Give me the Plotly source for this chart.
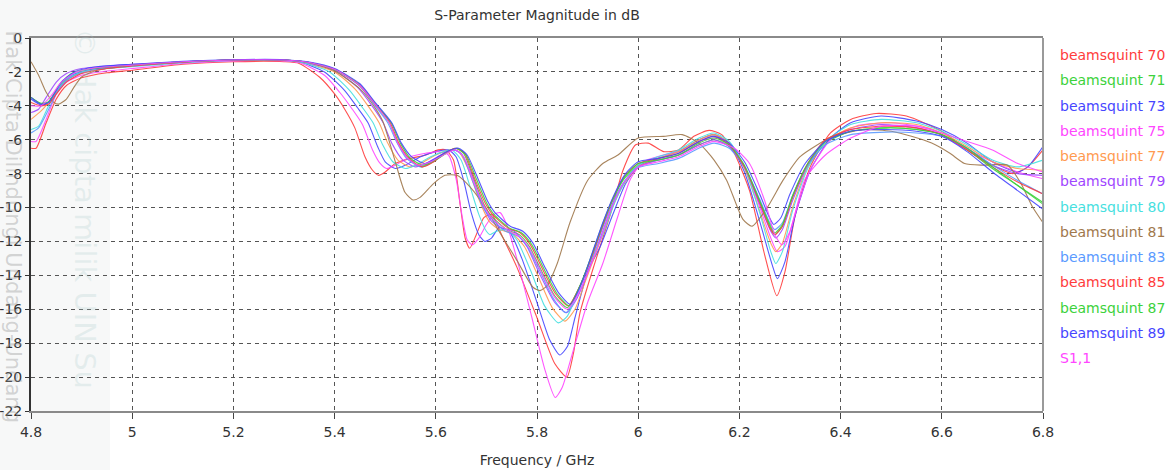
import plotly.graph_objects as go

# ---------------- data (frequency GHz, magnitude dB) ----------------
names = ["beamsquint 70", "beamsquint 71", "beamsquint 73", "beamsquint 75",
         "beamsquint 77", "beamsquint 79", "beamsquint 80", "beamsquint 81",
         "beamsquint 83", "beamsquint 85", "beamsquint 87", "beamsquint 89", "S1,1"]
colors = ["#ff3c3c", "#3cd23c", "#4646ff", "#ff46ff", "#ff9a50", "#a046ff",
          "#46e0e0", "#a0784c", "#5a9aff", "#ff3c3c", "#3cd23c", "#4646ff", "#ff46ff"]

bs70 = [(4.8,-6.5),(4.81,-6.5),(4.83,-5.0),(4.85,-3.6),(4.87,-2.8),(4.9,-2.35),(4.95,-2.05),(5.0,-1.9),
        (5.1,-1.55),(5.2,-1.4),(5.3,-1.4),(5.33,-1.5),(5.37,-2.3),(5.4,-3.3),(5.42,-4.2),(5.44,-5.3),
        (5.46,-7.0),(5.475,-7.8),(5.487,-8.1),(5.5,-7.9),(5.52,-7.4),(5.55,-7.1),(5.58,-6.9),(5.605,-6.6),
        (5.62,-6.6),(5.635,-7.2),(5.648,-9.8),(5.658,-11.8),(5.667,-12.4),(5.68,-11.6),(5.695,-10.6),
        (5.71,-10.4),(5.73,-11.6),(5.76,-13.5),(5.8,-16.5),(5.835,-19.2),(5.859,-20.0),(5.872,-18.6),
        (5.885,-16.2),(5.915,-13.2),(5.944,-10.5),(5.97,-7.8),(5.995,-6.3),(6.02,-6.2),(6.05,-6.7),
        (6.08,-6.6),(6.11,-5.8),(6.14,-5.45),(6.165,-5.7),(6.19,-6.8),(6.22,-9.0),(6.25,-12.8),
        (6.274,-15.2),(6.29,-13.8),(6.31,-10.5),(6.34,-7.6),(6.38,-5.6),(6.42,-4.8),(6.47,-4.45),
        (6.53,-4.6),(6.6,-5.5),(6.65,-6.6),(6.7,-7.5),(6.74,-8.0),(6.77,-7.6),(6.8,-6.6)]

bs71 = [(4.8,-3.5),(4.82,-3.9),(4.83,-3.9),(4.85,-3.2),(4.87,-2.5),(4.9,-2.0),(4.95,-1.75),(5.0,-1.6),
        (5.1,-1.4),(5.2,-1.3),(5.3,-1.3),(5.35,-1.45),(5.40,-1.85),(5.45,-2.8),(5.48,-3.9),(5.508,-5.0),
        (5.525,-6.2),(5.545,-7.1),(5.572,-7.6),(5.595,-7.3),(5.615,-6.9),(5.638,-6.5),(5.655,-6.8),
        (5.675,-8.3),(5.695,-9.8),(5.71,-10.5),(5.74,-11.3),(5.765,-11.6),(5.785,-12.3),(5.81,-13.8),
        (5.835,-15.2),(5.86,-15.9),(5.885,-14.6),(5.905,-13.1),(5.925,-11.5),(5.945,-9.9),(5.97,-8.4),
        (6.0,-7.5),(6.04,-7.2),(6.08,-6.9),(6.12,-6.3),(6.15,-6.0),(6.18,-6.4),(6.21,-7.6),(6.24,-9.6),
        (6.26,-11.1),(6.27,-11.6),(6.285,-11.1),(6.305,-9.4),(6.335,-7.5),(6.37,-6.2),(6.42,-5.5),
        (6.49,-5.3),(6.55,-5.4),(6.6,-5.7),(6.65,-6.6),(6.7,-7.7),(6.75,-8.7),(6.8,-9.7)]

bs73 = [(4.8,-3.6),(4.82,-3.95),(4.835,-3.8),(4.855,-2.9),(4.88,-2.2),(4.92,-1.85),(5.0,-1.6),
        (5.1,-1.42),(5.2,-1.3),(5.3,-1.32),(5.33,-1.4),(5.38,-2.0),(5.42,-3.1),(5.445,-4.1),(5.466,-5.0),
        (5.485,-6.4),(5.50,-7.3),(5.52,-7.7),(5.54,-7.5),(5.57,-7.0),(5.60,-6.7),(5.625,-6.6),(5.64,-7.0),
        (5.655,-8.4),(5.67,-10.3),(5.685,-11.6),(5.697,-12.0),(5.71,-11.8),(5.725,-11.2),(5.745,-11.4),
        (5.77,-13.0),(5.80,-15.6),(5.825,-17.8),(5.845,-18.7),(5.86,-18.2),(5.875,-16.5),(5.90,-13.8),
        (5.925,-12.3),(5.95,-10.4),(5.975,-8.6),(6.0,-7.6),(6.04,-7.1),(6.08,-6.7),(6.12,-6.0),(6.15,-5.7),
        (6.18,-6.2),(6.21,-7.9),(6.24,-10.8),(6.265,-13.4),(6.275,-14.2),(6.29,-13.2),(6.31,-10.5),
        (6.34,-7.8),(6.38,-5.9),(6.42,-5.0),(6.48,-4.6),(6.55,-4.9),(6.6,-5.4),(6.65,-6.2),(6.7,-7.3),
        (6.75,-7.9),(6.77,-7.6),(6.8,-6.4)]

bs75 = [(4.8,-6.1),(4.81,-6.1),(4.83,-4.8),(4.85,-3.3),(4.87,-2.6),(4.9,-2.2),(4.95,-1.95),(5.0,-1.8),
        (5.1,-1.5),(5.2,-1.35),(5.3,-1.35),(5.33,-1.45),(5.38,-2.2),(5.41,-3.2),(5.435,-4.2),(5.455,-5.1),
        (5.475,-6.6),(5.49,-7.4),(5.503,-7.7),(5.52,-7.5),(5.55,-7.0),(5.58,-6.8),(5.605,-6.7),(5.625,-6.9),
        (5.64,-8.3),(5.652,-10.5),(5.662,-11.9),(5.672,-12.2),(5.685,-11.8),(5.70,-11.0),(5.715,-10.4),
        (5.727,-10.3),(5.74,-11.0),(5.76,-13.0),(5.79,-16.5),(5.815,-19.5),(5.836,-21.2),(5.85,-20.6),
        (5.87,-18.6),(5.90,-15.6),(5.93,-13.3),(5.96,-10.5),(5.985,-8.3),(6.01,-7.3),(6.05,-6.9),
        (6.09,-6.6),(6.13,-6.0),(6.16,-5.9),(6.19,-6.6),(6.22,-8.3),(6.25,-10.8),(6.275,-12.6),
        (6.29,-12.3),(6.31,-10.4),(6.34,-7.8),(6.38,-6.0),(6.43,-5.2),(6.5,-5.0),(6.58,-5.4),(6.64,-6.4),
        (6.7,-7.3),(6.75,-7.9),(6.8,-8.3)]

bs77 = [(4.8,-4.8),(4.82,-4.3),(4.84,-3.6),(4.86,-2.8),(4.88,-2.3),(4.92,-1.9),(5.0,-1.65),
        (5.1,-1.42),(5.2,-1.3),(5.3,-1.3),(5.33,-1.4),(5.40,-2.0),(5.44,-3.0),(5.466,-4.0),(5.488,-5.0),
        (5.505,-6.2),(5.525,-7.2),(5.55,-7.6),(5.57,-7.4),(5.60,-6.9),(5.63,-6.6),(5.645,-6.7),(5.665,-7.8),
        (5.685,-9.5),(5.705,-10.8),(5.725,-11.3),(5.75,-11.5),(5.775,-12.3),(5.80,-13.9),(5.83,-15.9),
        (5.855,-16.7),(5.875,-16.0),(5.895,-14.4),(5.92,-12.4),(5.945,-10.3),(5.97,-8.7),(6.0,-7.6),
        (6.04,-7.1),(6.08,-6.7),(6.12,-6.0),(6.15,-5.7),(6.18,-6.2),(6.21,-7.7),(6.24,-10.2),(6.262,-12.1),
        (6.272,-12.6),(6.285,-12.1),(6.305,-10.0),(6.335,-7.6),(6.37,-6.1),(6.42,-5.3),(6.48,-5.0),
        (6.55,-5.1),(6.6,-5.6),(6.65,-6.4),(6.7,-7.3),(6.75,-7.7),(6.8,-7.8)]

bs79 = [(4.8,-4.4),(4.815,-4.2),(4.83,-3.5),(4.85,-2.6),(4.87,-2.1),(4.9,-1.8),(4.95,-1.65),(5.0,-1.55),
        (5.1,-1.4),(5.2,-1.3),(5.3,-1.3),(5.33,-1.4),(5.40,-1.9),(5.445,-2.9),(5.474,-4.0),(5.496,-5.0),
        (5.513,-6.2),(5.535,-7.2),(5.56,-7.6),(5.58,-7.4),(5.61,-6.9),(5.635,-6.6),(5.65,-6.8),(5.67,-8.0),
        (5.69,-9.7),(5.71,-10.8),(5.73,-11.2),(5.755,-11.4),(5.78,-12.3),(5.805,-13.9),(5.835,-15.6),
        (5.858,-16.2),(5.88,-15.3),(5.90,-13.8),(5.925,-11.8),(5.95,-9.8),(5.975,-8.4),(6.0,-7.6),
        (6.04,-7.2),(6.08,-6.9),(6.12,-6.3),(6.15,-6.0),(6.18,-6.4),(6.21,-7.6),(6.24,-9.8),(6.262,-11.4),
        (6.272,-11.8),(6.285,-11.3),(6.305,-9.6),(6.335,-7.5),(6.37,-6.1),(6.42,-5.4),(6.48,-5.1),
        (6.55,-5.3),(6.6,-5.7),(6.65,-6.5),(6.7,-7.5),(6.75,-8.0),(6.8,-8.1)]

bs80 = [(4.8,-5.4),(4.815,-5.2),(4.83,-4.3),(4.85,-3.1),(4.87,-2.4),(4.9,-2.0),(4.95,-1.8),(5.0,-1.7),
        (5.1,-1.45),(5.2,-1.32),(5.3,-1.32),(5.33,-1.4),(5.39,-2.0),(5.43,-3.1),(5.455,-4.1),(5.476,-5.0),
        (5.495,-6.3),(5.515,-7.3),(5.54,-7.7),(5.56,-7.5),(5.59,-7.0),(5.615,-6.7),(5.632,-6.6),(5.65,-7.2),
        (5.668,-8.8),(5.685,-10.4),(5.70,-11.4),(5.707,-11.6),(5.72,-11.4),(5.74,-11.3),(5.76,-11.9),
        (5.79,-13.9),(5.815,-15.8),(5.842,-16.8),(5.86,-16.4),(5.88,-15.0),(5.905,-13.2),(5.93,-11.6),
        (5.955,-9.6),(5.98,-8.2),(6.0,-7.5),(6.04,-7.0),(6.08,-6.6),(6.12,-5.9),(6.15,-5.6),(6.18,-6.1),
        (6.21,-7.6),(6.24,-10.3),(6.262,-12.6),(6.272,-13.3),(6.285,-12.6),(6.305,-10.2),(6.335,-7.7),
        (6.37,-6.1),(6.42,-5.1),(6.48,-4.8),(6.55,-5.0),(6.6,-5.5),(6.65,-6.3),(6.7,-7.2),(6.75,-7.6),
        (6.8,-7.2)]

bs81 = [(4.8,-1.4),(4.815,-2.2),(4.83,-3.2),(4.845,-3.8),(4.855,-3.9),(4.87,-3.6),(4.885,-2.9),
        (4.9,-2.3),(4.93,-1.9),(4.97,-1.7),(5.0,-1.6),(5.1,-1.42),(5.2,-1.3),(5.3,-1.3),(5.35,-1.45),
        (5.40,-1.95),(5.45,-3.0),(5.475,-3.9),(5.495,-4.9),(5.519,-7.2),(5.539,-9.1),(5.555,-9.55),
        (5.569,-9.4),(5.595,-8.6),(5.618,-8.1),(5.642,-8.1),(5.668,-8.8),(5.70,-10.1),(5.727,-11.5),
        (5.76,-13.1),(5.792,-14.7),(5.806,-14.9),(5.82,-14.6),(5.84,-13.3),(5.865,-10.9),(5.90,-8.4),
        (5.93,-7.4),(5.96,-6.9),(6.0,-5.9),(6.05,-5.8),(6.087,-5.7),(6.12,-6.2),(6.15,-7.2),(6.175,-8.4),
        (6.207,-10.7),(6.225,-11.1),(6.255,-10.0),(6.286,-8.4),(6.32,-7.0),(6.385,-5.8),(6.45,-5.4),
        (6.5,-5.5),(6.54,-5.8),(6.58,-6.2),(6.616,-6.8),(6.645,-7.4),(6.68,-7.5),(6.73,-7.5),(6.755,-8.5),
        (6.78,-10.0),(6.8,-10.9)]

bs83 = [(4.8,-5.6),(4.815,-5.3),(4.835,-4.2),(4.855,-3.0),(4.88,-2.3),(4.92,-1.9),(5.0,-1.65),
        (5.1,-1.42),(5.2,-1.3),(5.3,-1.3),(5.35,-1.45),(5.40,-1.85),(5.45,-2.85),(5.48,-4.0),(5.505,-5.0),
        (5.522,-6.1),(5.542,-7.1),(5.57,-7.6),(5.593,-7.3),(5.613,-6.9),(5.636,-6.6),(5.652,-6.9),
        (5.672,-8.4),(5.692,-9.9),(5.708,-10.6),(5.738,-11.4),(5.763,-11.7),(5.783,-12.4),(5.808,-13.9),
        (5.833,-15.4),(5.857,-16.2),(5.88,-15.1),(5.9,-13.6),(5.92,-12.0),(5.94,-10.4),(5.965,-8.8),
        (5.995,-7.7),(6.04,-7.4),(6.08,-7.1),(6.12,-6.5),(6.15,-6.2),(6.18,-6.5),(6.21,-7.6),(6.24,-9.5),
        (6.26,-10.9),(6.27,-11.3),(6.285,-10.9),(6.305,-9.3),(6.335,-7.5),(6.37,-6.3),(6.42,-5.7),
        (6.49,-5.55),(6.55,-5.6),(6.6,-5.8),(6.65,-6.5),(6.7,-7.5),(6.75,-8.4),(6.8,-9.2)]

bs85 = [(4.8,-3.8),(4.82,-4.0),(4.835,-3.9),(4.85,-3.3),(4.87,-2.6),(4.9,-2.1),(4.95,-1.8),(5.0,-1.65),
        (5.1,-1.42),(5.2,-1.3),(5.3,-1.3),(5.35,-1.45),(5.40,-1.85),(5.45,-2.8),(5.48,-3.9),(5.51,-5.0),
        (5.527,-6.2),(5.547,-7.1),(5.573,-7.6),(5.596,-7.3),(5.617,-6.8),(5.64,-6.5),(5.657,-6.8),
        (5.677,-8.3),(5.697,-9.7),(5.712,-10.4),(5.742,-11.2),(5.767,-11.5),(5.787,-12.2),(5.812,-13.7),
        (5.837,-15.1),(5.862,-15.8),(5.887,-14.5),(5.907,-13.0),(5.927,-11.3),(5.947,-9.7),(5.972,-8.2),
        (6.0,-7.4),(6.04,-7.1),(6.08,-6.8),(6.12,-6.1),(6.15,-5.8),(6.18,-6.3),(6.21,-7.6),(6.24,-9.7),
        (6.26,-11.2),(6.27,-11.6),(6.285,-11.1),(6.305,-9.4),(6.335,-7.4),(6.37,-6.0),(6.42,-5.4),
        (6.49,-5.2),(6.55,-5.3),(6.6,-5.7),(6.65,-6.6),(6.7,-7.6),(6.75,-8.5),(6.8,-9.2)]

bs87 = [(4.8,-3.5),(4.82,-3.85),(4.835,-3.75),(4.855,-2.8),(4.88,-2.1),(4.92,-1.8),(5.0,-1.6),
        (5.1,-1.4),(5.2,-1.3),(5.3,-1.3),(5.35,-1.45),(5.40,-1.85),(5.45,-2.75),(5.48,-3.85),(5.512,-5.0),
        (5.53,-6.2),(5.55,-7.1),(5.575,-7.5),(5.598,-7.2),(5.62,-6.8),(5.642,-6.5),(5.66,-6.9),(5.68,-8.3),
        (5.70,-9.7),(5.715,-10.4),(5.745,-11.2),(5.77,-11.5),(5.79,-12.2),(5.815,-13.7),(5.84,-15.1),
        (5.864,-15.8),(5.888,-14.4),(5.908,-12.8),(5.928,-11.1),(5.948,-9.6),(5.973,-8.2),(6.0,-7.4),
        (6.04,-7.2),(6.08,-6.9),(6.12,-6.2),(6.15,-5.9),(6.18,-6.3),(6.21,-7.5),(6.24,-9.6),(6.26,-11.0),
        (6.27,-11.5),(6.285,-11.0),(6.305,-9.3),(6.335,-7.4),(6.37,-6.1),(6.42,-5.5),(6.49,-5.3),
        (6.55,-5.4),(6.6,-5.7),(6.65,-6.5),(6.7,-7.6),(6.75,-8.7),(6.8,-9.8)]

bs89 = [(4.8,-3.5),(4.82,-3.9),(4.835,-3.8),(4.86,-2.6),(4.89,-1.95),(4.93,-1.7),(5.0,-1.55),
        (5.1,-1.38),(5.2,-1.28),(5.3,-1.28),(5.35,-1.42),(5.40,-1.8),(5.45,-2.7),(5.48,-3.8),(5.513,-5.0),
        (5.532,-6.2),(5.552,-7.0),(5.578,-7.4),(5.6,-7.1),(5.622,-6.7),(5.645,-6.5),(5.662,-6.9),
        (5.682,-8.2),(5.702,-9.6),(5.717,-10.3),(5.747,-11.1),(5.772,-11.4),(5.792,-12.1),(5.817,-13.6),
        (5.842,-15.0),(5.866,-15.7),(5.89,-14.3),(5.91,-12.6),(5.93,-10.9),(5.95,-9.4),(5.975,-8.0),
        (6.0,-7.3),(6.04,-7.1),(6.08,-6.8),(6.12,-6.1),(6.15,-5.8),(6.18,-6.2),(6.21,-7.3),(6.24,-9.2),
        (6.258,-10.5),(6.268,-11.0),(6.282,-10.6),(6.30,-9.2),(6.33,-7.4),(6.37,-6.1),(6.42,-5.5),
        (6.49,-5.4),(6.55,-5.5),(6.6,-5.8),(6.65,-6.7),(6.7,-7.9),(6.75,-9.0),(6.8,-10.1)]

s11 = [(4.8,-4.0),(4.82,-4.0),(4.84,-3.4),(4.86,-2.6),(4.89,-2.0),(4.93,-1.75),(5.0,-1.6),
       (5.1,-1.4),(5.2,-1.3),(5.3,-1.3),(5.35,-1.45),(5.40,-1.85),(5.45,-2.8),(5.48,-3.9),(5.508,-5.0),
       (5.525,-6.2),(5.545,-7.1),(5.565,-7.5),(5.59,-7.3),(5.615,-6.9),(5.638,-6.6),(5.655,-7.0),
       (5.675,-8.5),(5.695,-9.9),(5.71,-10.6),(5.74,-11.3),(5.765,-11.7),(5.785,-12.4),(5.81,-13.9),
       (5.835,-15.3),(5.86,-16.0),(5.885,-14.9),(5.905,-13.5),(5.925,-11.9),(5.945,-10.2),(5.97,-8.6),
       (6.0,-7.6),(6.04,-7.3),(6.08,-7.0),(6.12,-6.4),(6.15,-6.1),(6.19,-6.5),(6.22,-7.4),(6.25,-9.6),
       (6.27,-11.6),(6.284,-12.2),(6.30,-11.4),(6.33,-8.3),(6.37,-6.9),(6.42,-5.9),(6.48,-5.2),
       (6.55,-5.2),(6.6,-5.6),(6.65,-6.1),(6.7,-6.6),(6.75,-7.4),(6.8,-7.9)]

series = [bs70, bs71, bs73, bs75, bs77, bs79, bs80, bs81, bs83, bs85, bs87, bs89, s11]

x_ticks = [4.8, 5.0, 5.2, 5.4, 5.6, 5.8, 6.0, 6.2, 6.4, 6.6, 6.8]
x_tick_text = ["4.8", "5", "5.2", "5.4", "5.6", "5.8", "6", "6.2", "6.4", "6.6", "6.8"]
y_ticks = [0, -2, -4, -6, -8, -10, -12, -14, -16, -18, -20, -22]

# ---------------- figure ----------------
W, H = 1173, 470
ML, MR, MT, MB = 31, 130, 38, 59
plot_w = W - ML - MR
plot_h = H - MT - MB

fig = go.Figure()
for name, col, pts in zip(names, colors, series):
    fig.add_trace(go.Scatter(
        x=[p[0] for p in pts], y=[p[1] for p in pts], name=name, mode="lines",
        line=dict(color=col, width=1.1, shape="spline", smoothing=0.6),
        opacity=0.9))

# legend as coloured text (no line samples in the original)
ann = []
for i, (name, col) in enumerate(zip(names, colors)):
    ann.append(dict(text=name, xref="paper", yref="paper", x=1.015,
                    y=1 - (17 + 25.25 * i) / plot_h, xanchor="left", yanchor="middle",
                    showarrow=False, font=dict(family="DejaVu Sans", size=14, color=col)))

# faint watermark texts
ann.append(dict(text="© Hak cipta milik UIN Su", xref="paper", yref="paper",
                x=(85 - ML) / plot_w, y=1 + 12 / plot_h, xanchor="center", yanchor="top",
                textangle=90, showarrow=False,
                font=dict(family="DejaVu Sans", size=29, color="rgba(170,200,200,0.25)")))
ann.append(dict(text="Hak Cipta Dilindungi Undang-Undang", xref="paper", yref="paper",
                x=(13 - ML) / plot_w, y=1 + 10 / plot_h, xanchor="center", yanchor="top",
                textangle=90, showarrow=False,
                font=dict(family="DejaVu Sans", size=21, color="rgba(150,150,150,0.4)")))

fig.update_layout(
    width=W, height=H,
    margin=dict(l=ML, r=MR, t=MT, b=MB),
    paper_bgcolor="white", plot_bgcolor="rgba(0,0,0,0)",
    showlegend=False,
    font=dict(family="DejaVu Sans", size=14, color="#333"),
    title=dict(text="S-Parameter Magnitude in dB", x=0.5, xref="paper", xanchor="center",
               y=1 - 15 / H, yanchor="middle", font=dict(size=14, color="#333")),
    annotations=ann,
    shapes=[
        dict(type="rect", xref="paper", yref="paper", x0=-ML / plot_w, x1=(110 - ML) / plot_w,
             y0=-0.3, y1=1.2, fillcolor="#f7f8f8", line=dict(width=0), layer="below"),
        dict(type="line", xref="paper", yref="paper", x0=1, x1=1, y0=0, y1=1,
             line=dict(color="#9a9a9a", width=2), layer="above"),
    ],
)
fig.update_xaxes(range=[4.8, 6.8], tickvals=x_ticks, ticktext=x_tick_text,
                 automargin=False,
                 showgrid=True, gridcolor="#555", gridwidth=1, griddash="4px,4px",
                 showline=True, linecolor="#8a8a8a", linewidth=2, mirror=True,
                 ticks="outside", ticklen=6, tickcolor="#444", zeroline=False,
                 ticklabelstandoff=1,
                 tickfont=dict(size=14, color="#333"),
                 title=dict(text="Frequency / GHz", font=dict(size=14, color="#333"), standoff=16))
fig.update_yaxes(range=[-22, 0], tickvals=y_ticks, ticktext=[str(v) for v in y_ticks],
                 automargin=False,
                 showgrid=True, gridcolor="#555", gridwidth=1, griddash="4px,4px",
                 showline=True, linecolor="#333", linewidth=2, mirror=False,
                 ticks="outside", ticklen=4, tickcolor="#333", zeroline=False,
                 tickfont=dict(size=14, color="#333"))

fig.write_html("out.html")
